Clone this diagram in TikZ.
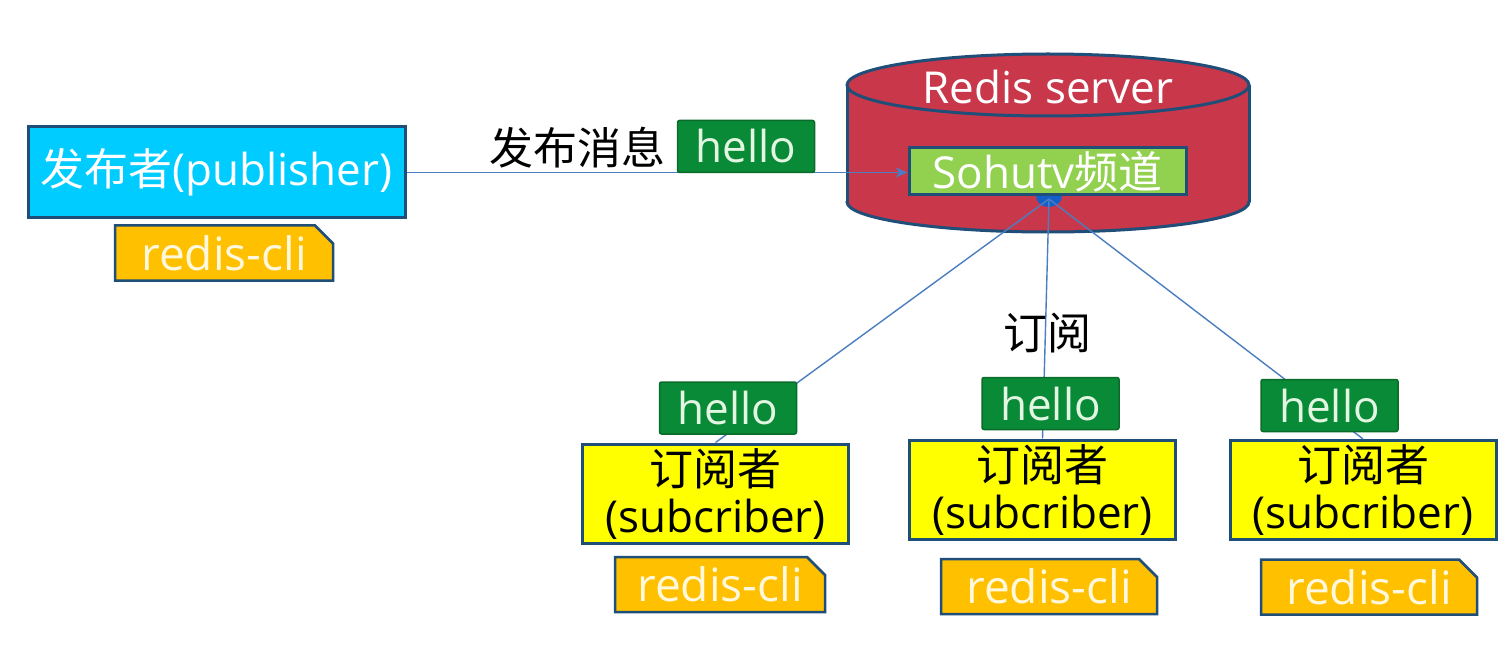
\documentclass[tikz,border=0pt]{standalone}
\usepackage{fontspec}
\setmainfont{Open Sans}
\newfontfamily\cjk{Noto Sans CJK SC}
\usetikzlibrary{shapes.misc,arrows.meta}
\definecolor{pubcyan}{HTML}{00CCFF}
\definecolor{boxborder}{HTML}{1F4E79}
\definecolor{cliorange}{HTML}{FFC000}
\definecolor{hellogreen}{HTML}{088A36}
\definecolor{hellobord}{HTML}{0B6B2B}
\definecolor{redisred}{HTML}{C8374A}
\definecolor{chgreen}{HTML}{92D050}
\definecolor{linkblue}{HTML}{4A7EC0}
\definecolor{dotblue}{HTML}{1460C8}
\definecolor{paletext}{HTML}{FFF8DC}
\definecolor{palegreen}{HTML}{E2F6E2}
\definecolor{subyellow}{HTML}{FFFF00}
\begin{document}
\begin{tikzpicture}[x=1pt,y=-1pt,
  big/.style={font=\fontsize{44}{47}\selectfont},
  clifont/.style={font=\fontsize{46}{48}\selectfont},
  pubbox/.style={draw=boxborder, line width=3pt, fill=pubcyan, text=white, big,
    minimum width=377pt, minimum height=91pt, inner sep=0pt},
  clibox/.style={chamfered rectangle, chamfered rectangle corners=north east,
    chamfered rectangle xsep=9pt, chamfered rectangle ysep=9pt,
    draw=boxborder, line width=2.5pt, fill=cliorange, text=paletext, clifont,
    minimum height=55pt, inner sep=0pt},
  hellobox/.style={draw=hellobord, line width=1.5pt, rounded corners=2pt, fill=hellogreen,
    text=palegreen, big, minimum width=137pt, minimum height=52pt, inner sep=0pt},
  subbox/.style={draw=boxborder, line width=3pt, fill=subyellow, text=black, big,
    align=center, minimum width=266pt, minimum height=99pt, inner sep=0pt},
  chanbox/.style={draw=boxborder, line width=3pt, fill=chgreen, text=white, big,
    minimum width=277pt, minimum height=47pt, inner sep=0pt},
  cylb/.style={draw=boxborder, line width=3pt},
  link/.style={draw=linkblue, line width=1.4pt},
  plain/.style={big, text=black, inner sep=0pt}
]
\useasboundingbox (0,0) rectangle (1509,660);
\fill[white] (0,0) rectangle (1509,660);

% cylinder (Redis server)
\fill[redisred] (1048,202) ellipse [x radius=201, y radius=30];
\fill[redisred] (847,85) rectangle (1249,202);
\begin{scope}
  \clip (830,202) rectangle (1270,245);
  \draw[cylb] (1048,202) ellipse [x radius=201, y radius=30];
\end{scope}
\draw[cylb] (847,85) -- (847,202) (1249,85) -- (1249,202);
\filldraw[cylb, fill=redisred] (1048,85) ellipse [x radius=201, y radius=31];
\node[big, text=white, inner sep=0pt] (redis) at (1048,87) {Redis server};

% hub dot below the channel
\coordinate (hub) at (1049,199);
\fill[dotblue] (1049,196) ellipse [x radius=13, y radius=11];

% channel
\node[chanbox] (sohu) at (1047.5,171.5) {Sohutv{\cjk 频道}};

% publisher
\node[pubbox] (pub) at (216.5,172.5) {{\cjk 发布者}(publisher)};
\node[clibox, minimum width=218pt] (pubcli) at (224,253) {redis-cli};

% subscribers
\node[subbox] (sub1) at (715.5,493.5) {{\cjk 订阅者}\\(subcriber)};
\node[subbox] (sub2) at (1042.5,489.5) {{\cjk 订阅者}\\(subcriber)};
\node[subbox] (sub3) at (1363,490) {{\cjk 订阅者}\\(subcriber)};

\node[clibox, minimum width=210pt] (cli1) at (720,584.5) {redis-cli};
\node[clibox, minimum width=216pt] (cli2) at (1049,586.5) {redis-cli};
\node[clibox, minimum width=216pt] (cli3) at (1369,587) {redis-cli};

% connectors
\draw[link, -{Stealth[length=12pt,width=10pt]}] (pub.east) -- (pub.east -| sohu.west);
\draw[link] (hub) -- (sub1.north);
\draw[link] (hub) -- (sub2.north);
\draw[link] (hub) -- (sub3.north);

% labels and messages
\node[plain] (publabel) at (577,148) {\cjk 发布消息};
\node[hellobox] (hello0) at (746,146.5) {hello};
\node[plain] (sublabel) at (1047,333) {\cjk 订阅};
\node[hellobox] (hello1) at (728,408) {hello};
\node[hellobox] (hello2) at (1050.5,403.5) {hello};
\node[hellobox] (hello3) at (1329.5,405.5) {hello};
\end{tikzpicture}
\end{document}
